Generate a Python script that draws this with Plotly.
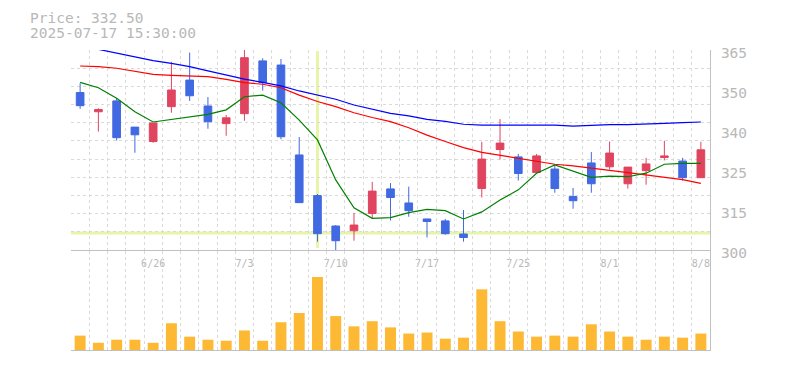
import plotly.graph_objects as go

# ---------------- data ----------------
dates = ["6/20", "6/23", "6/24", "6/25", "6/26", "6/27", "6/30", "7/1", "7/2", "7/3",
         "7/4", "7/7", "7/8", "7/9", "7/10", "7/11", "7/14", "7/15", "7/16", "7/17",
         "7/18", "7/22", "7/23", "7/24", "7/25", "7/28", "7/29", "7/30", "7/31", "8/1",
         "8/4", "8/5", "8/6", "8/7", "8/8"]
tick_dates = ["6/26", "7/3", "7/10", "7/17", "7/25", "8/1", "8/8"]

open_ = [349.2, 343.2, 346.6, 338.4, 333.9, 344.8, 353.1, 345.0, 339.5, 342.6,
         359.1, 357.8, 329.7, 317.0, 307.5, 306.0, 311.4, 319.1, 314.7, 309.7,
         309.1, 305.0, 319.2, 331.4, 329.1, 324.2, 325.3, 316.7, 327.2, 326.0,
         320.7, 324.8, 328.9, 327.8, 322.6]
high = [352.1, 344.3, 347.5, 338.4, 339.7, 358.8, 361.7, 347.8, 342.2, 362.7,
        359.9, 359.7, 335.3, 317.5, 307.8, 311.6, 321.3, 320.9, 319.8, 309.7,
        309.7, 312.5, 333.8, 340.9, 330.0, 330.0, 326.7, 319.4, 330.6, 333.9,
        325.9, 328.8, 334.1, 328.8, 333.8]
low = [344.1, 337.0, 334.2, 330.4, 333.5, 342.9, 346.6, 337.9, 335.7, 340.4,
       349.8, 334.6, 314.8, 302.6, 299.8, 302.9, 309.9, 309.2, 310.4, 303.9,
       304.8, 302.6, 316.4, 328.3, 321.7, 324.0, 317.9, 312.9, 317.9, 325.2,
       319.2, 320.4, 328.0, 321.7, 322.6]
close = [345.1, 343.9, 335.1, 336.0, 339.7, 350.0, 348.2, 340.1, 341.3, 360.1,
         352.3, 335.4, 314.8, 305.1, 302.9, 307.8, 318.4, 316.4, 312.3, 308.9,
         305.1, 303.9, 328.4, 333.4, 323.9, 329.4, 319.2, 315.4, 320.7, 330.3,
         325.9, 326.9, 329.4, 322.6, 331.3]

ma_short = [352.4, 350.7, 347.4, 343.2, 340.0, 340.8, 341.6, 342.4, 343.8, 347.9,
            348.4, 346.0, 340.6, 334.4, 321.9, 313.2, 309.9, 310.1, 311.7, 312.7,
            312.3, 309.7, 311.9, 315.6, 318.8, 324.0, 326.6, 324.7, 322.7, 323.1,
            322.9, 324.0, 326.8, 327.1, 327.1]
ma_mid = [357.5, 357.3, 356.8, 355.9, 354.9, 354.6, 354.4, 354.2, 353.3, 352.3,
          351.8, 350.7, 348.4, 346.4, 344.8, 342.9, 341.4, 340.1, 338.2, 335.9,
          333.9, 332.0, 330.5, 329.6, 328.7, 327.8, 326.8, 326.3, 325.5, 324.9,
          324.2, 323.4, 322.7, 322.0, 320.8]
ma_long = [None, 362.7, 361.5, 360.2, 359.2, 358.3, 357.3, 356.0, 354.7, 353.4,
           352.4, 351.3, 349.7, 348.4, 347.1, 345.3, 344.0, 342.7, 341.9, 340.8,
           340.2, 339.3, 339.0, 339.0, 339.0, 339.0, 339.0, 338.7, 339.0, 339.2,
           339.2, 339.5, 339.6, 339.8, 340.0]

volume = [42, 21, 30, 30, 21, 78, 39, 30, 27, 57,
          27, 81, 108, 213, 99, 69, 84, 66, 48, 51,
          33, 36, 177, 84, 54, 39, 42, 39, 75, 54,
          39, 30, 39, 36, 48]

price_ticks = [300, 312.5, 325, 337.5, 350, 362.5]
price_tick_text = ["300", "315", "325", "340", "350", "365"]

info_price = "332.50"
info_time = "2025-07-17 15:30:00"
cross_idx = 13
cross_price = 305.3

# ---------------- styling ----------------
RED = "#e0445f"
BLUE = "#4169e1"
VOL = "#fdb933"
GRID = "#dadada"
AXIS = "#c0c0c0"
TXT = "#b8b8b8"
CROSS = "#e6f5a8"
MONO = "DejaVu Sans Mono"

x = list(range(len(dates)))
n = len(dates)

fig = go.Figure()

fig.add_trace(go.Candlestick(
    x=x, open=open_, high=high, low=low, close=close,
    increasing=dict(line=dict(color=RED, width=1), fillcolor=RED),
    decreasing=dict(line=dict(color=BLUE, width=1), fillcolor=BLUE),
    whiskerwidth=0, xaxis="x", yaxis="y", hoverinfo="skip", showlegend=False,
))
for vals, col in [(ma_long, "#0000ff"), (ma_mid, "#ff0000"), (ma_short, "#008000")]:
    fig.add_trace(go.Scatter(x=x, y=vals, mode="lines",
                             line=dict(color=col, width=1.2),
                             xaxis="x", yaxis="y", hoverinfo="skip", showlegend=False))

fig.add_trace(go.Bar(x=x, y=volume, marker=dict(color=VOL, line=dict(width=0)),
                     width=0.6, xaxis="x2", yaxis="y2", hoverinfo="skip", showlegend=False))

grid_x_minor = dict(tick0=-0.5, dtick=1, showgrid=True, gridcolor=GRID,
                    griddash="3px,3px", gridwidth=1, ticks="")

# the page body has an 8px default margin, so the figure is sized 8px smaller
fig.update_layout(
    width=777, height=362,
    margin=dict(l=63, r=75, t=42, b=20, autoexpand=False),
    paper_bgcolor="white", plot_bgcolor="white",
    boxgap=0.4, bargap=0.4,
    showlegend=False,
    xaxis=dict(
        domain=[0, 1], range=[-0.5, n - 0.5], anchor="y",
        rangeslider=dict(visible=False),
        tickmode="array",
        tickvals=[dates.index(d) for d in tick_dates], ticktext=tick_dates,
        ticks="", showgrid=False, zeroline=False,
        showline=True, linecolor=AXIS, linewidth=1,
        tickfont=dict(family=MONO, size=10, color=TXT),
        ticklabelstandoff=4,
        minor=grid_x_minor,
    ),
    yaxis=dict(
        domain=[1 / 3, 1], range=[price_ticks[0], price_ticks[-1]], anchor="x",
        side="right", tickmode="array", tickvals=price_ticks, ticktext=price_tick_text,
        ticks="", showgrid=False, zeroline=False,
        showline=True, linecolor=AXIS, linewidth=1,
        tickfont=dict(family=MONO, size=14.5, color=TXT),
        ticklabelstandoff=7, ticklabelshift=3,
        minor=dict(tick0=price_ticks[0], dtick=(price_ticks[-1] - price_ticks[0]) / 11,
                   showgrid=True, gridcolor=GRID, griddash="3px,3px", gridwidth=1, ticks=""),
    ),
    xaxis2=dict(
        domain=[0, 1], range=[-0.5, n - 0.5], anchor="y2",
        showticklabels=False, ticks="", showgrid=False, zeroline=False,
        showline=True, linecolor=AXIS, linewidth=1,
        minor=grid_x_minor,
    ),
    yaxis2=dict(
        domain=[0, 0.33], range=[0, max(volume) * 99 / 73], anchor="x2",
        side="right", showticklabels=False, ticks="", showgrid=False, zeroline=False,
        showline=True, linecolor=AXIS, linewidth=1,
    ),
    shapes=[
        dict(type="line", xref="x", yref="y domain", x0=cross_idx, x1=cross_idx,
             y0=0.01, y1=0.995, line=dict(color=CROSS, width=3), layer="below"),
        dict(type="line", xref="x domain", yref="y", x0=0, x1=1,
             y0=cross_price, y1=cross_price, line=dict(color=CROSS, width=3), layer="below"),
    ],
    annotations=[
        dict(xref="paper", yref="paper", x=-43 / 639, y=(350 - 18) / 300,
             xanchor="left", yanchor="middle", showarrow=False,
             text=f"Price: {info_price}", font=dict(family=MONO, size=14.5, color=TXT)),
        dict(xref="paper", yref="paper", x=-43 / 639, y=(350 - 33) / 300,
             xanchor="left", yanchor="middle", showarrow=False,
             text=info_time, font=dict(family=MONO, size=14.5, color=TXT)),
    ],
)

fig.write_html("out.html")
